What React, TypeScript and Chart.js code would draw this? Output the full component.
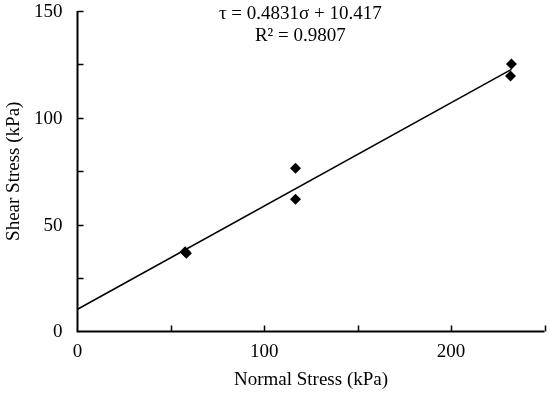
import React, { useEffect, useRef } from "react";
import { Chart, registerables } from "chart.js";

Chart.register(...registerables);

const normalStress = [57.6, 58.3, 116.7, 116.7, 232.3, 231.8];
const shearStress = [37.3, 36.6, 76.4, 61.9, 125.2, 119.6];
const trendSlope = 0.4831;
const trendIntercept = 10.417;
const trendRange = [0, 232.3];
const equationLines = ["τ = 0.4831σ + 10.417", "R² = 0.9807"];
const xLabelValues = [0, 100, 200];
const yLabelValues = [0, 50, 100, 150];

const FONT = '"Liberation Serif", "Times New Roman", serif';

const axesPlugin = {
  id: "axesPlugin",
  afterDraw(chart: any) {
    const { ctx, chartArea, scales } = chart;
    const xs = scales.x;
    const ys = scales.y;
    ctx.save();
    ctx.strokeStyle = "#000";
    ctx.lineWidth = 2;
    ctx.beginPath();
    ctx.moveTo(chartArea.left, chartArea.top);
    ctx.lineTo(chartArea.left, chartArea.bottom);
    ctx.lineTo(chartArea.right, chartArea.bottom);
    ctx.stroke();
    ctx.lineWidth = 1.5;
    ctx.beginPath();
    for (let v = 25; v <= 150; v += 25) {
      const y = Math.round(ys.getPixelForValue(v)) + 0.5;
      ctx.moveTo(chartArea.left, y);
      ctx.lineTo(chartArea.left + 6, y);
    }
    for (let v = 50; v <= 250; v += 50) {
      const x = Math.round(xs.getPixelForValue(v)) + 0.5;
      ctx.moveTo(x, chartArea.bottom);
      ctx.lineTo(x, chartArea.bottom - 6);
    }
    ctx.stroke();
    ctx.fillStyle = "#000";
    ctx.font = `19px ${FONT}`;
    ctx.textBaseline = "middle";
    ctx.textAlign = "right";
    for (const v of yLabelValues) {
      ctx.fillText(String(v), chartArea.left - 15, ys.getPixelForValue(v) + 1);
    }
    ctx.textAlign = "center";
    ctx.fillText(equationLines[0], xs.getPixelForValue(119.3), 14);
    ctx.fillText(equationLines[1], xs.getPixelForValue(119.3), 36);
    ctx.restore();
  },
};

export default function App() {
  const ref = useRef<HTMLCanvasElement>(null);
  useEffect(() => {
    if (!ref.current) return;
    const trendData = trendRange.map((x) => ({ x, y: trendSlope * x + trendIntercept }));
    const chart = new Chart(ref.current, {
      type: "scatter",
      data: {
        datasets: [
          {
            type: "line",
            data: trendData,
            borderColor: "#000",
            borderWidth: 1.5,
            pointRadius: 0,
            fill: false,
          } as any,
          {
            data: normalStress.map((x, i) => ({ x, y: shearStress[i] })),
            pointStyle: "rectRot",
            pointRadius: 5.5,
            backgroundColor: "#000",
            borderColor: "#000",
            borderWidth: 0,
          },
        ],
      },
      options: {
        animation: false,
        responsive: false,
        devicePixelRatio: 1,
        layout: { padding: { top: 11, right: 4, left: 0, bottom: 0 } },
        plugins: { legend: { display: false }, tooltip: { enabled: false } },
        scales: {
          x: {
            type: "linear",
            min: 0,
            max: 250,
            afterBuildTicks: (s: any) => {
              s.ticks = xLabelValues.map((v) => ({ value: v }));
            },
            afterFit: (s: any) => {
              s.height = 66.5;
            },
            grid: { display: false, drawTicks: false },
            border: { display: false },
            ticks: { color: "#000", font: { family: FONT, size: 19 }, padding: 9, maxRotation: 0 },
            title: {
              display: true,
              text: "Normal Stress (kPa)",
              color: "#000",
              font: { family: FONT, size: 19 },
              padding: { top: 4, bottom: 7 },
            },
          },
          y: {
            type: "linear",
            min: 0,
            max: 150,
            afterBuildTicks: (s: any) => {
              s.ticks = yLabelValues.map((v) => ({ value: v }));
            },
            afterFit: (s: any) => {
              s.width = 77.5;
            },
            grid: { display: false, drawTicks: false },
            border: { display: false },
            ticks: { display: false },
            title: {
              display: true,
              text: "Shear Stress (kPa)",
              color: "#000",
              font: { family: FONT, size: 19 },
              padding: { top: 3, bottom: 3 },
            },
          },
        },
      },
      plugins: [axesPlugin],
    });
    return () => chart.destroy();
  }, []);
  return (
    <div style={{ position: "absolute", left: 0, top: 0, width: 550, height: 398, background: "#fff" }}>
      <canvas ref={ref} width={550} height={398} />
    </div>
  );
}
